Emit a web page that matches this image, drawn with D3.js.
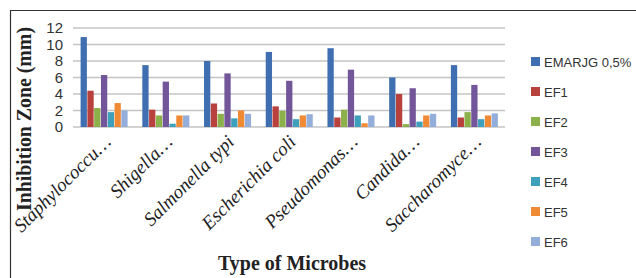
<!DOCTYPE html>
<html>
<head>
<meta charset="utf-8">
<script src="https://cdn.jsdelivr.net/npm/d3@7"></script>
<style>
body { margin: 0; background: #fff; }
svg { display: block; }
</style>
</head>
<body>
<script>
var microbes = ["Staphylococcu\u2026", "Shigella\u2026", "Salmonella typi", "Escherichia coli",
                "Pseudomonas\u2026", "Candida\u2026", "Saccharomyce\u2026"];
var seriesNames = ["EMARJG 0,5%", "EF1", "EF2", "EF3", "EF4", "EF5", "EF6"];
var seriesColors = ["#3f6fb0", "#b8413e", "#8cb04a", "#73569a", "#3ea0bb", "#f08a34", "#94aedb"];
// one value per microbe in each series
var emarjg = [10.9, 7.5, 8.0, 9.1, 9.55, 6.0, 7.5];
var ef1 = [4.4, 2.1, 2.85, 2.5, 1.15, 4.0, 1.15];
var ef2 = [2.3, 1.4, 1.6, 1.95, 2.1, 0.35, 1.8];
var ef3 = [6.3, 5.5, 6.5, 5.6, 6.95, 4.7, 5.1];
var ef4 = [1.8, 0.4, 1.05, 0.95, 1.4, 0.65, 0.95];
var ef5 = [2.9, 1.4, 2.0, 1.4, 0.45, 1.4, 1.4];
var ef6 = [2.0, 1.4, 1.6, 1.55, 1.4, 1.6, 1.65];
var yTicks = [0, 2, 4, 6, 8, 10, 12];

var series = [emarjg, ef1, ef2, ef3, ef4, ef5, ef6];

var W = 636, H = 278;
var svg = d3.select("body").append("svg").attr("width", W).attr("height", H);

// frame
svg.append("path")
    .attr("d", "M10.5," + H + "V10.5H" + W)
    .attr("fill", "none").attr("stroke", "#333").attr("stroke-width", 1.2);

var plotL = 73, plotR = 505, plotT = 28, plotB = 127;

var x = d3.scaleBand().domain(microbes).range([plotL, plotR]).paddingInner(0.23).paddingOuter(0.115);
var xs = d3.scaleBand().domain(d3.range(series.length)).range([0, x.bandwidth()]);
var y = d3.scaleLinear().domain([0, 12]).range([plotB, plotT]);

// gridlines
svg.append("g").selectAll("line").data(yTicks).enter().append("line")
    .attr("x1", plotL).attr("x2", plotR)
    .attr("y1", function(d){ return y(d); }).attr("y2", function(d){ return y(d); })
    .attr("stroke", "#c4c4c4").attr("stroke-width", 1.6);

// y tick labels
svg.append("g").selectAll("text").data(yTicks).enter().append("text")
    .attr("x", 63).attr("y", function(d){ return y(d); })
    .attr("dy", "0.36em").attr("text-anchor", "end")
    .style("font", "15px 'Liberation Sans', Arial, sans-serif").attr("fill", "#333")
    .text(function(d){ return d; });

// bars
var groups = svg.append("g").selectAll("g").data(microbes).enter().append("g")
    .attr("transform", function(d){ return "translate(" + x(d) + ",0)"; });

groups.selectAll("rect").data(function(d, i){
	return series.map(function(s, j){ return {k: j, v: s[i]}; });
    }).enter().append("rect")
    .attr("x", function(d){ return xs(d.k) + 0.5; })
    .attr("width", xs.bandwidth() - 0.5)
    .attr("y", function(d){ return y(d.v); })
    .attr("height", function(d){ return y(0) - y(d.v); })
    .attr("fill", function(d){ return seriesColors[d.k]; });

// x labels, rotated
svg.append("g").selectAll("text").data(microbes).enter().append("text")
    .attr("transform", function(d){
	return "translate(" + (x(d) + x.bandwidth() / 2 + 8) + "," + (plotB + 16) + ") rotate(-45)";
    })
    .attr("text-anchor", "end")
    .style("font", "italic 19px 'Liberation Serif', 'Times New Roman', serif").attr("fill", "#222")
    .text(function(d){ return d; });

// axis titles
svg.append("text")
    .attr("transform", "translate(31,119) rotate(-90)")
    .attr("text-anchor", "middle")
    .attr("textLength", 184).attr("lengthAdjust", "spacingAndGlyphs")
    .style("font", "bold 20px 'Liberation Serif', 'Times New Roman', serif").attr("fill", "#222")
    .text("Inhibition Zone (mm)");

svg.append("text")
    .attr("x", 292).attr("y", 270).attr("text-anchor", "middle")
    .style("font", "bold 20px 'Liberation Serif', 'Times New Roman', serif").attr("fill", "#222")
    .text("Type of Microbes");

// legend
var legend = svg.append("g").selectAll("g").data(seriesNames).enter().append("g")
    .attr("transform", function(d, i){ return "translate(531," + (62 + i * 30) + ")"; });
legend.append("rect").attr("x", 0).attr("y", -5).attr("width", 9).attr("height", 9)
    .attr("fill", function(d, i){ return seriesColors[i]; });
legend.append("text").attr("x", 13).attr("y", 0).attr("dy", "0.36em")
    .style("font", "13px 'Liberation Sans', Arial, sans-serif").attr("fill", "#333")
    .text(function(d){ return d; });
</script>
</body>
</html>
